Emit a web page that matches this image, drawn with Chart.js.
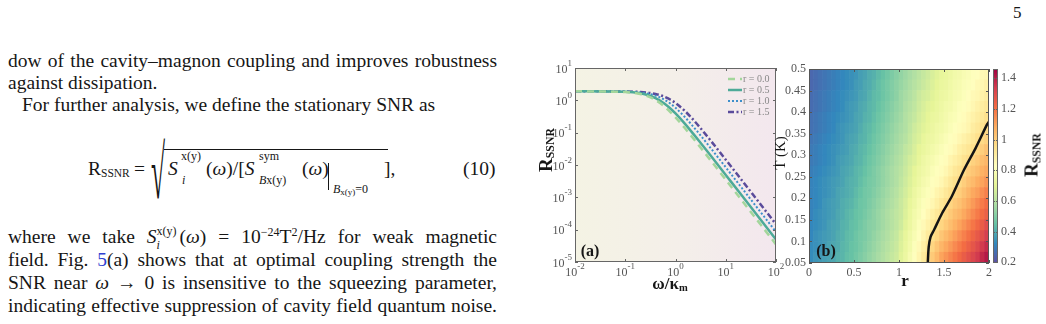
<!DOCTYPE html>
<html>
<head>
<meta charset="utf-8">
<script src="https://cdn.jsdelivr.net/npm/chart.js@4.4.1/dist/chart.umd.min.js"></script>
<style>
  html, body { margin: 0; padding: 0; background: #fff; }
  #page { position: relative; width: 1046px; height: 324px; overflow: hidden;
          font-family: "Liberation Serif", "Times New Roman", serif; color: #161616; }
  canvas { position: absolute; }
  .txt { position: absolute; left: 8px; width: 489px; font-size: 19.5px; }
  .txt .j { text-align: justify; text-align-last: justify; }
  .at { position: absolute; white-space: nowrap; line-height: 1; }
  .ss { position: relative; display: inline-block; height: 0; }
  .ss .u, .ss .d { position: absolute; left: 0; font-size: 12px; line-height: 1; }
  .ss .u { bottom: 6px; }
  .ss .d { top: -4px; }
  .txt sup { font-size: 12px; vertical-align: 7px; line-height: 0; }
  .lab { position: absolute; white-space: nowrap; font-weight: bold; line-height: 1; transform: translate(-50%, -50%); }
  .rot { transform: translate(-50%, -50%) rotate(-90deg); }
  .lab sub { font-size: 0.62em; vertical-align: -0.25em; line-height: 0; }
</style>
</head>
<body>
<div id="page">

  <div class="txt" style="top:50px; line-height:22px;">
    <div class="j">dow of the cavity–magnon coupling and improves robustness</div>
    <div>against dissipation.</div>
    <div style="padding-left:14px">For further analysis, we define the stationary SNR as</div>
  </div>

  <!-- equation (10) -->
  <span class="at" data-x="88" data-b="175" data-f="19.5">R</span>
  <span class="at" data-x="101" data-b="178" data-f="11.5">SSNR</span>
  <span class="at" data-x="134" data-b="175" data-f="19.5">=</span>
  <span class="at" data-x="151" data-b="198" data-f="75" style="transform:scaleX(0.34);transform-origin:left">√</span>
  <div style="position:absolute; left:164px; top:149px; width:224px; border-top:1.3px solid #161616;"></div>
  <span class="at" data-x="168" data-b="175" data-f="19.5"><i>S</i></span>
  <span class="at" data-x="181" data-b="160" data-f="12">x(y)</span>
  <span class="at" data-x="182" data-b="184" data-f="12"><i>i</i></span>
  <span class="at" data-x="206" data-b="175" data-f="19.5">(<i>ω</i>)/[<i>S</i></span>
  <span class="at" data-x="259" data-b="160" data-f="12">sym</span>
  <span class="at" data-x="259" data-b="184" data-f="12"><i>B</i>x(y)</span>
  <span class="at" data-x="302" data-b="175" data-f="19.5">(<i>ω</i>)</span>
  <div style="position:absolute; left:328px; top:163px; height:27px; border-left:1.2px solid #161616;"></div>
  <span class="at" data-x="333" data-b="193" data-f="12"><i>B</i><span style="font-size:9px;position:relative;top:2px">x(y)</span>=0</span>
  <span class="at" data-x="384" data-b="175" data-f="19.5">],</span>
  <span class="at" data-x="463" data-b="175" data-f="19.5">(10)</span>

  <div class="txt" style="top:225px; line-height:23px;">
    <div class="j">where we take <i>S</i><span class="ss" style="width:23px"><span class="u">x(y)</span><span class="d"><i>i</i></span></span>(<i>ω</i>) = 10<sup>−24</sup>T<sup>2</sup>/Hz for weak magnetic</div>
    <div class="j">field. Fig. <span style="color:#2f3fd0">5</span>(a) shows that at optimal coupling strength the</div>
    <div class="j">SNR near <i>ω</i> → 0 is insensitive to the squeezing parameter,</div>
    <div class="j">indicating effective suppression of cavity field quantum noise.</div>
  </div>

  <span class="at" data-x="1013" data-b="18" data-f="17">5</span>

  <canvas id="chartA" width="270" height="240" style="left:520px; top:55px;"></canvas>
  <canvas id="chartB" width="215" height="240" style="left:780px; top:55px;"></canvas>
  <canvas id="chartC" width="58" height="240" style="left:988px; top:55px;"></canvas>

  <div class="lab rot" style="left:545px; top:150px; font-size:19px;">R<sub>SSNR</sub></div>
  <div class="lab" style="left:670px; top:283px; font-size:17px;">ω/κ<sub>m</sub></div>
  <div class="lab" style="left:590px; top:251px; font-size:16px;">(a)</div>
  <div class="lab" style="left:826px; top:251px; font-size:16px;">(b)</div>
  <div class="lab rot" style="left:780px; top:153px; font-size:15px; font-weight:normal;">T (K)</div>
  <div class="lab" style="left:905px; top:280px; font-size:17px;">r</div>
  <div class="lab rot" style="left:1031px; top:155px; font-size:19px;">R<sub>SSNR</sub></div>
</div>

<script>
// ---- panel (a): R_SSNR versus omega/kappa_m ----
const omega = [0.01, 0.1, 0.2, 0.3, 0.4, 0.5, 0.6, 0.8, 1, 1.5, 2, 3, 5, 10, 20, 50, 100];
const snrR00 = [1.9, 1.80, 1.56, 1.28, 1.02, 0.81, 0.645, 0.426, 0.297, 0.144, 0.084, 0.0383, 0.0140, 3.51e-3, 8.8e-4, 1.41e-4, 3.51e-5];
const snrR05 = [1.9, 1.83, 1.65, 1.41, 1.18, 0.97, 0.797, 0.549, 0.392, 0.197, 0.116, 0.0534, 0.0196, 4.93e-3, 1.24e-3, 1.98e-4, 4.94e-5];
const snrR10 = [1.9, 1.86, 1.74, 1.58, 1.40, 1.22, 1.054, 0.783, 0.589, 0.316, 0.192, 0.0903, 0.0335, 8.49e-3, 2.13e-3, 3.41e-4, 8.53e-5];
const snrR15 = [1.9, 1.88, 1.81, 1.70, 1.57, 1.44, 1.297, 1.040, 0.829, 0.487, 0.308, 0.1505, 0.0571, 0.0146, 3.67e-3, 5.88e-4, 1.47e-4];
const seriesLabels = ['r = 0.0', 'r = 0.5', 'r = 1.0', 'r = 1.5'];
const omegaTicks = [0.01, 0.1, 1, 10, 100];
const snrTicks = [1e-5, 1e-4, 1e-3, 1e-2, 1e-1, 1, 10];

// ---- panel (b): R_SSNR over squeezing r (columns) and temperature T (rows) ----
const rCells = [0.025, 0.075, 0.125, 0.175, 0.225, 0.275, 0.325, 0.375, 0.425, 0.475,
                0.525, 0.575, 0.625, 0.675, 0.725, 0.775, 0.825, 0.875, 0.925, 0.975,
                1.025, 1.075, 1.125, 1.175, 1.225, 1.275, 1.325, 1.375, 1.425, 1.475,
                1.525, 1.575, 1.625, 1.675, 1.725, 1.775, 1.825, 1.875, 1.925, 1.975];
const tCells = [0.0625, 0.0875, 0.1125, 0.1375, 0.1625, 0.1875, 0.2125, 0.2375, 0.2625,
                0.2875, 0.3125, 0.3375, 0.3625, 0.3875, 0.4125, 0.4375, 0.4625, 0.4875];
const rssnrRows = [
  [0.33,0.35,0.36,0.37,0.38, 0.39,0.41,0.42,0.44,0.45, 0.47,0.49,0.51,0.53,0.55, 0.57,0.59,0.61,0.63,0.65, 0.69,0.73,0.78,0.82,0.87, 0.91,0.96,1.01,1.05,1.10, 1.13,1.16,1.19,1.22,1.25, 1.28,1.31,1.34,1.38,1.41],
  [0.33,0.34,0.35,0.36,0.38, 0.39,0.40,0.42,0.43,0.45, 0.46,0.48,0.50,0.52,0.54, 0.56,0.58,0.60,0.62,0.64, 0.68,0.72,0.76,0.81,0.85, 0.89,0.93,0.98,1.02,1.06, 1.09,1.12,1.15,1.18,1.21, 1.24,1.27,1.30,1.34,1.37],
  [0.32,0.34,0.35,0.36,0.37, 0.38,0.40,0.41,0.43,0.44, 0.46,0.48,0.49,0.51,0.53, 0.55,0.57,0.59,0.61,0.63, 0.67,0.71,0.75,0.79,0.83, 0.87,0.91,0.95,0.98,1.02, 1.05,1.08,1.11,1.14,1.17, 1.20,1.23,1.26,1.29,1.33],
  [0.32,0.33,0.34,0.35,0.37, 0.38,0.39,0.41,0.42,0.44, 0.45,0.47,0.49,0.51,0.52, 0.54,0.56,0.58,0.60,0.62, 0.65,0.69,0.73,0.77,0.81, 0.85,0.88,0.92,0.95,0.98, 1.01,1.04,1.07,1.10,1.13, 1.16,1.19,1.22,1.25,1.29],
  [0.31,0.33,0.34,0.35,0.36, 0.37,0.39,0.40,0.42,0.43, 0.45,0.46,0.48,0.50,0.52, 0.54,0.56,0.58,0.60,0.62, 0.64,0.68,0.72,0.76,0.79, 0.83,0.86,0.89,0.92,0.95, 0.98,1.01,1.04,1.06,1.09, 1.12,1.15,1.18,1.21,1.24],
  [0.31,0.32,0.33,0.35,0.36, 0.37,0.38,0.40,0.41,0.42, 0.44,0.46,0.47,0.49,0.51, 0.53,0.55,0.57,0.59,0.61, 0.64,0.67,0.71,0.74,0.78, 0.81,0.84,0.86,0.89,0.92, 0.95,0.98,1.01,1.03,1.06, 1.09,1.12,1.15,1.18,1.21],
  [0.31,0.32,0.33,0.34,0.35, 0.36,0.38,0.39,0.40,0.41, 0.43,0.45,0.47,0.48,0.50, 0.52,0.54,0.56,0.58,0.60, 0.63,0.66,0.69,0.73,0.76, 0.79,0.81,0.84,0.87,0.89, 0.92,0.95,0.98,1.00,1.03, 1.06,1.09,1.11,1.14,1.17],
  [0.31,0.32,0.33,0.34,0.35, 0.36,0.37,0.38,0.40,0.41, 0.42,0.44,0.46,0.48,0.49, 0.51,0.53,0.55,0.57,0.59, 0.62,0.65,0.68,0.71,0.74, 0.77,0.79,0.82,0.84,0.86, 0.89,0.92,0.95,0.97,1.00, 1.03,1.05,1.08,1.10,1.13],
  [0.30,0.31,0.32,0.33,0.34, 0.35,0.36,0.38,0.39,0.40, 0.42,0.43,0.45,0.47,0.49, 0.51,0.53,0.55,0.57,0.59, 0.61,0.64,0.67,0.70,0.73, 0.75,0.77,0.80,0.82,0.84, 0.86,0.89,0.92,0.94,0.97, 1.00,1.02,1.04,1.07,1.09],
  [0.29,0.30,0.31,0.32,0.33, 0.34,0.36,0.37,0.38,0.39, 0.41,0.42,0.44,0.46,0.48, 0.50,0.52,0.54,0.56,0.58, 0.60,0.63,0.66,0.68,0.71, 0.74,0.76,0.78,0.80,0.82, 0.84,0.87,0.89,0.91,0.94, 0.96,0.99,1.01,1.04,1.06],
  [0.29,0.30,0.31,0.32,0.33, 0.34,0.35,0.36,0.37,0.39, 0.40,0.42,0.43,0.45,0.47, 0.49,0.51,0.53,0.55,0.57, 0.59,0.62,0.64,0.67,0.70, 0.72,0.74,0.76,0.78,0.80, 0.82,0.84,0.86,0.89,0.91, 0.93,0.95,0.98,1.00,1.03],
  [0.28,0.29,0.30,0.31,0.32, 0.33,0.34,0.35,0.37,0.38, 0.39,0.41,0.42,0.44,0.46, 0.48,0.50,0.52,0.54,0.56, 0.58,0.60,0.63,0.66,0.68, 0.71,0.73,0.74,0.76,0.78, 0.80,0.82,0.84,0.86,0.88, 0.90,0.92,0.95,0.97,0.99],
  [0.27,0.28,0.29,0.30,0.31, 0.32,0.34,0.35,0.36,0.37, 0.38,0.40,0.42,0.43,0.45, 0.47,0.49,0.51,0.53,0.55, 0.57,0.59,0.62,0.65,0.67, 0.69,0.71,0.73,0.75,0.76, 0.78,0.80,0.82,0.84,0.85, 0.87,0.90,0.92,0.94,0.97],
  [0.27,0.28,0.29,0.30,0.31, 0.32,0.33,0.34,0.35,0.36, 0.38,0.39,0.41,0.42,0.44, 0.46,0.48,0.50,0.52,0.54, 0.56,0.59,0.61,0.63,0.66, 0.68,0.70,0.72,0.73,0.75, 0.77,0.79,0.80,0.82,0.84, 0.86,0.88,0.90,0.92,0.95],
  [0.26,0.27,0.28,0.29,0.30, 0.31,0.32,0.33,0.35,0.36, 0.37,0.39,0.40,0.42,0.43, 0.45,0.47,0.49,0.51,0.53, 0.55,0.58,0.60,0.62,0.65, 0.67,0.69,0.70,0.72,0.74, 0.76,0.77,0.79,0.81,0.82, 0.84,0.86,0.88,0.90,0.92],
  [0.26,0.27,0.28,0.29,0.30, 0.31,0.32,0.33,0.34,0.35, 0.36,0.38,0.39,0.41,0.43, 0.44,0.46,0.48,0.50,0.52, 0.55,0.57,0.59,0.61,0.64, 0.66,0.67,0.69,0.71,0.73, 0.74,0.76,0.78,0.79,0.81, 0.83,0.85,0.86,0.88,0.90],
  [0.25,0.26,0.27,0.28,0.29, 0.30,0.31,0.32,0.33,0.34, 0.36,0.37,0.39,0.40,0.42, 0.44,0.46,0.48,0.50,0.52, 0.54,0.56,0.58,0.60,0.62, 0.64,0.66,0.68,0.70,0.72, 0.73,0.75,0.77,0.78,0.80, 0.81,0.83,0.85,0.86,0.88],
  [0.25,0.26,0.27,0.28,0.29, 0.30,0.31,0.32,0.33,0.34, 0.35,0.37,0.38,0.40,0.41, 0.43,0.45,0.47,0.49,0.51, 0.53,0.55,0.57,0.59,0.61, 0.63,0.65,0.67,0.69,0.71, 0.72,0.74,0.76,0.77,0.79, 0.80,0.82,0.83,0.85,0.86]
];
const contourR = [1.32, 1.33, 1.35, 1.39, 1.48, 1.59, 1.72, 1.85, 1.98, 2.0];
const contourT = [0.05, 0.087, 0.11, 0.127, 0.166, 0.206, 0.265, 0.316, 0.372, 0.378];
const rTicks = [0, 0.5, 1, 1.5, 2];
const tTicks = [0.05, 0.1, 0.15, 0.2, 0.25, 0.3, 0.35, 0.4, 0.45, 0.5];
const barTicks = [0.2, 0.4, 0.6, 0.8, 1, 1.2, 1.4];
const cMin = 0.195, cMax = 1.46;

// place the equation pieces on their baselines
document.querySelectorAll('.at').forEach(el => {
  const f = +el.dataset.f;
  el.style.fontSize = f + 'px';
  el.style.left = el.dataset.x + 'px';
  el.style.top = (+el.dataset.b - 0.8375 * f) + 'px';
});

const spectral = ['#5e4fa2', '#3288bd', '#66c2a5', '#abdda4', '#e6f598', '#ffffbf',
                  '#fee08b', '#fdae61', '#f46d43', '#d53e4f', '#9e0142'];
function hexRgb(h) { return [1, 3, 5].map(i => parseInt(h.substr(i, 2), 16)); }
function colorFor(v) {
  let t = (v - cMin) / (cMax - cMin);
  t = Math.max(0, Math.min(1, t)) * 10;
  const i = Math.min(9, Math.floor(t)), f = t - i;
  const a = hexRgb(spectral[i]), b = hexRgb(spectral[i + 1]);
  return 'rgb(' + a.map((c, k) => Math.round(c + (b[k] - c) * f)).join(',') + ')';
}

const FONT = '"Liberation Serif", "Times New Roman", serif';
const tickFont = { family: FONT, size: 12 };
const tickGrey = '#555';

// box with inward ticks, MATLAB style
const boxTicks = {
  id: 'boxTicks',
  afterDraw(chart, args, opts) {
    const { ctx, chartArea: a, scales } = chart;
    const L = opts.len || 3;
    ctx.save();
    ctx.strokeStyle = opts.color || '#666';
    ctx.lineWidth = 1;
    const seg = (x1, y1, x2, y2) => { ctx.beginPath(); ctx.moveTo(x1, y1); ctx.lineTo(x2, y2); ctx.stroke(); };
    if (scales.x && scales.x.options.display !== false) {
      scales.x.ticks.forEach(t => {
        const x = Math.round(scales.x.getPixelForValue(t.value)) + 0.5;
        seg(x, a.bottom, x, a.bottom - L);
        seg(x, a.top, x, a.top + L);
      });
    }
    scales.y.ticks.forEach(t => {
      const y = Math.round(scales.y.getPixelForValue(t.value)) + 0.5;
      seg(a.left, y, a.left + L, y);
      seg(a.right, y, a.right - L, y);
    });
    ctx.strokeRect(Math.round(a.left) + 0.5, Math.round(a.top) + 0.5, Math.round(a.width) - 1, Math.round(a.height) - 1);
    ctx.restore();
  }
};

// power-of-ten tick labels with raised exponents
const powerLabels = {
  id: 'powerLabels',
  afterDraw(chart) {
    const { ctx, chartArea: a, scales: { x, y } } = chart;
    ctx.save();
    ctx.fillStyle = tickGrey;
    ctx.textAlign = 'left';
    ctx.textBaseline = 'alphabetic';
    const put = (v, cx, base, centred) => {
      const exp = String(Math.round(Math.log10(v)));
      ctx.font = '12px ' + FONT;
      const wb = ctx.measureText('10').width;
      ctx.font = '9px ' + FONT;
      const we = ctx.measureText(exp).width;
      const left = centred ? cx - (wb + we) / 2 : cx - wb - we;
      ctx.font = '12px ' + FONT;
      ctx.fillText('10', left, base);
      ctx.font = '9px ' + FONT;
      ctx.fillText(exp, left + wb, base - 7);
    };
    x.ticks.forEach(t => put(t.value, x.getPixelForValue(t.value), a.bottom + 14, true));
    y.ticks.forEach(t => put(t.value, a.left - 3, y.getPixelForValue(t.value) + 4.5, false));
    ctx.restore();
  }
};

const panelShade = {
  id: 'panelShade',
  beforeDraw(chart) {
    const { ctx, chartArea: a } = chart;
    const g = ctx.createLinearGradient(a.left, 0, a.right, 0);
    g.addColorStop(0, '#f4f3e4');
    g.addColorStop(0.5, '#f4efe9');
    g.addColorStop(1, '#f3e7ee');
    ctx.save();
    ctx.fillStyle = g;
    ctx.fillRect(a.left, a.top, a.width, a.height);
    ctx.restore();
  }
};

const cornerLegend = {
  id: 'cornerLegend',
  afterDatasetsDraw(chart) {
    const { ctx, chartArea: a } = chart;
    ctx.save();
    chart.data.datasets.forEach((ds, i) => {
      const y = a.top + 11 + i * 11;
      const x0 = a.right - 48;
      ctx.strokeStyle = ds.borderColor;
      ctx.lineWidth = ds.borderWidth;
      ctx.setLineDash(ds.borderDash || []);
      ctx.beginPath(); ctx.moveTo(x0, y); ctx.lineTo(x0 + 14, y); ctx.stroke();
      ctx.setLineDash([]);
      ctx.fillStyle = '#888';
      ctx.font = '10px ' + FONT;
      ctx.textBaseline = 'middle';
      ctx.fillText(ds.label, x0 + 15, y + 0.5);
    });
    ctx.restore();
  }
};

const colorBar = {
  id: 'colorBar',
  beforeDraw(chart) {
    const { ctx, chartArea: a, scales: { y } } = chart;
    const g = ctx.createLinearGradient(0, y.getPixelForValue(cMin), 0, y.getPixelForValue(cMax));
    spectral.forEach((c, i) => g.addColorStop(i / 10, c));
    ctx.save();
    ctx.fillStyle = g;
    ctx.fillRect(a.left, a.top, a.width, a.height);
    ctx.restore();
  }
};

function pts(xs, ys) { return xs.map((x, i) => ({ x: x, y: ys[i] })); }

const lineStyles = [
  { color: '#a3d69b', width: 2.5, dash: [7, 5] },
  { color: '#4daa98', width: 2.5, dash: [] },
  { color: '#3d8fcb', width: 2, dash: [2, 2] },
  { color: '#5a4b9b', width: 2.5, dash: [6, 2.5, 2, 2.5] }
];

new Chart(document.getElementById('chartA'), {
  type: 'line',
  data: {
    datasets: [snrR00, snrR05, snrR10, snrR15].map((ys, i) => ({
      label: seriesLabels[i],
      data: pts(omega, ys),
      borderColor: lineStyles[i].color,
      borderWidth: lineStyles[i].width,
      borderDash: lineStyles[i].dash,
      pointRadius: 0,
      cubicInterpolationMode: 'monotone'
    }))
  },
  options: {
    responsive: false,
    animation: false,
    devicePixelRatio: 1,
    layout: { padding: { top: 13, right: 14, left: 0, bottom: 0 } },
    plugins: { legend: { display: false }, tooltip: { enabled: false }, boxTicks: { color: '#666', len: 3 } },
    scales: {
      x: {
        type: 'logarithmic', min: 0.01, max: 100,
        grid: { display: false, drawTicks: false },
        border: { display: false },
        ticks: { display: false },
        afterBuildTicks: s => { s.ticks = omegaTicks.map(v => ({ value: v })); },
        afterFit: s => { s.height = 33; }
      },
      y: {
        type: 'logarithmic', min: 1e-5, max: 10,
        grid: { display: false, drawTicks: false },
        border: { display: false },
        ticks: { display: false },
        afterBuildTicks: s => { s.ticks = snrTicks.map(v => ({ value: v })); },
        afterFit: s => { s.width = 55; }
      }
    }
  },
  plugins: [panelShade, cornerLegend, boxTicks, powerLabels]
});

const half = (tCells[1] - tCells[0]) / 2;
const heatSets = tCells.map((t, k) => ({
  type: 'bar',
  data: rCells.map(r => ({ x: r, y: [t - half, t + half] })),
  backgroundColor: rssnrRows[k].map(colorFor),
  borderWidth: 0,
  grouped: false,
  barPercentage: 1,
  categoryPercentage: 1,
  order: 2
}));

new Chart(document.getElementById('chartB'), {
  type: 'bar',
  data: {
    datasets: heatSets.concat([{
      type: 'line',
      data: pts(contourR, contourT),
      borderColor: '#141414',
      borderWidth: 2.5,
      pointRadius: 0,
      tension: 0.3,
      order: 0
    }])
  },
  options: {
    responsive: false,
    animation: false,
    devicePixelRatio: 1,
    layout: { padding: { top: 14, right: 4, left: 0, bottom: 0 } },
    plugins: { legend: { display: false }, tooltip: { enabled: false }, boxTicks: { color: '#555', len: 3 } },
    scales: {
      x: {
        type: 'linear', min: 0, max: 2, offset: false,
        grid: { display: false, drawTicks: false },
        border: { display: false },
        ticks: { font: tickFont, color: tickGrey, padding: 3, maxRotation: 0,
                 callback: v => String(v) },
        afterBuildTicks: s => { s.ticks = rTicks.map(v => ({ value: v })); },
        afterFit: s => { s.height = 32; }
      },
      y: {
        type: 'linear', min: 0.05, max: 0.5,
        grid: { display: false, drawTicks: false },
        border: { display: false },
        ticks: { font: tickFont, color: tickGrey, padding: 3,
                 callback: v => String(+v.toFixed(2)) },
        afterBuildTicks: s => { s.ticks = tTicks.map(v => ({ value: v })); },
        afterFit: s => { s.width = 29; }
      }
    }
  },
  plugins: [boxTicks]
});

new Chart(document.getElementById('chartC'), {
  type: 'bar',
  data: { labels: [''], datasets: [] },
  options: {
    responsive: false,
    animation: false,
    devicePixelRatio: 1,
    layout: { padding: { top: 14, right: 0, left: 5, bottom: 32 } },
    plugins: { legend: { display: false }, tooltip: { enabled: false }, boxTicks: { color: '#666', len: 2 } },
    scales: {
      x: { display: false },
      y: {
        position: 'right', min: cMin, max: cMax,
        grid: { display: false, drawTicks: false },
        border: { display: false },
        ticks: { font: tickFont, color: tickGrey, padding: 3,
                 callback: v => String(+v.toFixed(1)) },
        afterBuildTicks: s => { s.ticks = barTicks.map(v => ({ value: v })); },
        afterFit: s => { s.width = 48; }
      }
    }
  },
  plugins: [colorBar, boxTicks]
});
</script>
</body>
</html>
